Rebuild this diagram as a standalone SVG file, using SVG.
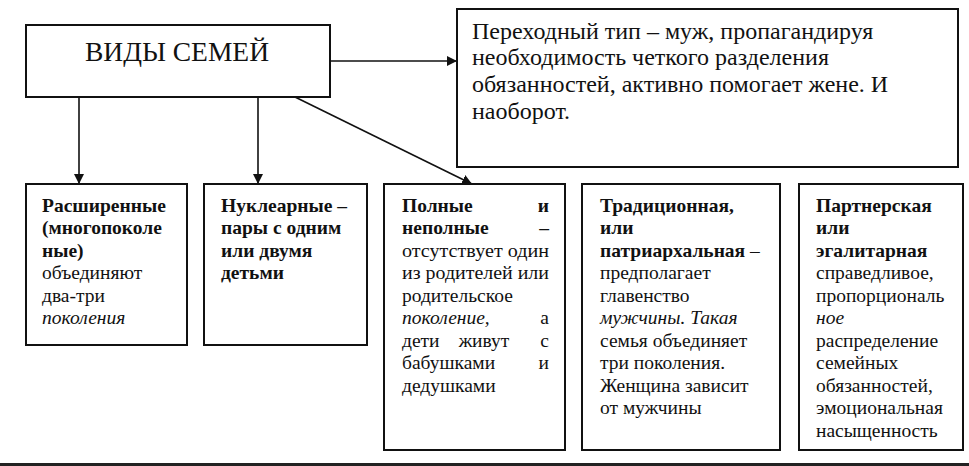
<svg xmlns="http://www.w3.org/2000/svg" width="969" height="466" viewBox="0 0 969 466">
<style>
.box{fill:#fff;stroke:#111;stroke-width:2}
.ln{stroke:#111;stroke-width:1.6;fill:none}
text{font-family:"Liberation Serif","Times New Roman",serif;fill:#111}
.t{font-size:19.5px}
.b{font-weight:bold}
.i{font-style:italic}
.title{font-size:27.5px}
.big{font-size:24px}
</style>
<defs>
<marker id="ah" viewBox="0 0 10 10" refX="10" refY="5" markerWidth="10" markerHeight="10" markerUnits="userSpaceOnUse" orient="auto">
<path d="M0,0 L10,5 L0,10 Z" fill="#111"/>
</marker>
</defs>
<rect width="969" height="466" fill="#fff"/>
<g id="connectors">
<line class="ln" x1="330" y1="61" x2="457" y2="61" marker-end="url(#ah)"/>
<line class="ln" x1="79" y1="97" x2="79" y2="184" marker-end="url(#ah)"/>
<line class="ln" x1="258" y1="97" x2="258" y2="184" marker-end="url(#ah)"/>
<line class="ln" x1="295" y1="97" x2="472" y2="184" marker-end="url(#ah)"/>
</g>
<g id="main">
<rect class="box" x="26" y="25" width="304" height="72"/>
<text class="title" x="177" y="61" text-anchor="middle">ВИДЫ СЕМЕЙ</text>
</g>
<g id="transitional">
<rect class="box" x="457" y="9" width="501" height="158"/>
<text class="big" x="472" y="39">Переходный тип – муж, пропагандируя</text>
<text class="big" x="472" y="65">необходимость четкого разделения</text>
<text class="big" x="472" y="92">обязанностей, активно помогает жене. И</text>
<text class="big" x="472" y="119">наоборот.</text>
</g>
<g id="extended">
<rect class="box" x="26" y="184" width="161" height="161"/>
<text class="t b" x="42" y="212">Расширенные</text>
<text class="t b" x="42" y="234">(многопоколе</text>
<text class="t b" x="42" y="257">ные)</text>
<text class="t" x="42" y="279">объединяют</text>
<text class="t" x="42" y="302">два-три</text>
<text class="t i" x="42" y="324">поколения</text>
</g>
<g id="nuclear">
<rect class="box" x="204" y="184" width="163" height="161"/>
<text class="t b" x="221" y="212">Нуклеарные –</text>
<text class="t b" x="221" y="234">пары с одним</text>
<text class="t b" x="221" y="257">или двумя</text>
<text class="t b" x="221" y="279">детьми</text>
</g>
<g id="full">
<rect class="box" x="384" y="184" width="181" height="266"/>
<text class="t b" x="402" y="212">Полные</text>
<text class="t b" x="549" y="212" text-anchor="end">и</text>
<text class="t b" x="402" y="234">неполные</text>
<text class="t b" x="549" y="234" text-anchor="end">–</text>
<text class="t" x="402" y="257" textLength="147" lengthAdjust="spacingAndGlyphs">отсутствует один</text>
<text class="t" x="402" y="279" textLength="147" lengthAdjust="spacingAndGlyphs">из родителей или</text>
<text class="t" x="402" y="302">родительское</text>
<text class="t i" x="402" y="324">поколение,</text>
<text class="t" x="549" y="324" text-anchor="end">а</text>
<text class="t" x="402" y="347">дети</text>
<text class="t" x="484" y="347" text-anchor="middle">живут</text>
<text class="t" x="549" y="347" text-anchor="end">с</text>
<text class="t" x="402" y="369">бабушками</text>
<text class="t" x="549" y="369" text-anchor="end">и</text>
<text class="t" x="402" y="392">дедушками</text>
</g>
<g id="traditional">
<rect class="box" x="582" y="184" width="198" height="266"/>
<text class="t b" x="600" y="212">Традиционная,</text>
<text class="t b" x="600" y="234">или</text>
<text class="t b" x="600" y="257">патриархальная <tspan font-weight="normal">–</tspan></text>
<text class="t" x="600" y="279">предполагает</text>
<text class="t" x="600" y="302">главенство</text>
<text class="t i" x="600" y="324">мужчины. Такая</text>
<text class="t" x="600" y="347">семья объединяет</text>
<text class="t" x="600" y="369">три поколения.</text>
<text class="t" x="600" y="392">Женщина зависит</text>
<text class="t" x="600" y="414">от мужчины</text>
</g>
<g id="partner">
<rect class="box" x="799" y="184" width="164" height="266"/>
<text class="t b" x="816" y="212">Партнерская</text>
<text class="t b" x="816" y="234">или</text>
<text class="t b" x="816" y="257">эгалитарная</text>
<text class="t" x="816" y="279">справедливое,</text>
<text class="t" x="816" y="302">пропорциональ</text>
<text class="t i" x="816" y="324">ное</text>
<text class="t" x="816" y="347">распределение</text>
<text class="t" x="816" y="369">семейных</text>
<text class="t" x="816" y="392">обязанностей,</text>
<text class="t" x="816" y="414">эмоциональная</text>
<text class="t" x="816" y="437">насыщенность</text>
</g>
<rect x="0" y="463" width="969" height="3" fill="#222"/>
</svg>
